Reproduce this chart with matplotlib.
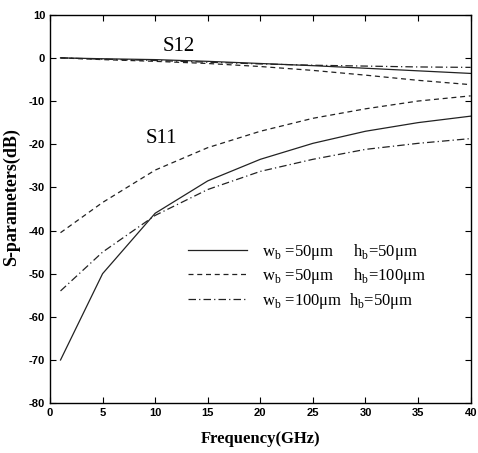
import matplotlib
matplotlib.use("Agg")
import matplotlib.pyplot as plt

plt.rcParams['axes.unicode_minus'] = False
plt.rcParams['mathtext.fontset'] = 'custom'
plt.rcParams['mathtext.rm'] = 'Liberation Serif'

freq = [1, 5, 10, 15, 20, 25, 30, 35, 40]

s11_w50_h50 = [-70, -50, -36, -28.5, -23.5, -19.8, -17.0, -15.0, -13.5]
s11_w50_h100 = [-40.5, -33.5, -26, -20.8, -17.0, -14.0, -11.8, -10.0, -8.8]
s11_w100_h50 = [-54, -45, -36.5, -30.5, -26.3, -23.5, -21.2, -19.8, -18.7]

s12_w50_h50 = [0, -0.2, -0.4, -0.8, -1.3, -1.8, -2.4, -3.0, -3.6]
s12_w50_h100 = [0, -0.4, -0.8, -1.3, -2.0, -2.9, -4.0, -5.2, -6.2]
s12_w100_h50 = [0, -0.3, -0.6, -1.0, -1.4, -1.7, -1.9, -2.1, -2.2]

labels = [r'w$_\mathregular{b}$ =50μm     h$_\mathregular{b}$=50μm',
          r'w$_\mathregular{b}$ =50μm     h$_\mathregular{b}$=100μm',
          r'w$_\mathregular{b}$ =100μm  h$_\mathregular{b}$=50μm']

fig = plt.figure(figsize=(4.78, 4.53), dpi=100)
ax = fig.add_axes([0.1046, 0.110, 0.880, 0.8575])

lw = 0.9
c = '#222222'
l1, = ax.plot(freq, s11_w50_h50, color=c, lw=lw, linestyle='-')
l2, = ax.plot(freq, s11_w50_h100, color=c, lw=lw, linestyle=(0, (4, 3)))
l3, = ax.plot(freq, s11_w100_h50, color=c, lw=lw, linestyle=(0, (6, 2.5, 1, 2.5)))
ax.plot(freq, s12_w50_h50, color=c, lw=lw, linestyle='-')
ax.plot(freq, s12_w50_h100, color=c, lw=lw, linestyle=(0, (4, 3)))
ax.plot(freq, s12_w100_h50, color=c, lw=lw, linestyle=(0, (6, 2.5, 1, 2.5)))

ax.set_xlim(0, 40)
ax.set_ylim(-80, 10)
ax.set_xticks(range(0, 41, 5))
ax.set_yticks(range(-80, 11, 10))
ax.tick_params(direction='in', length=4, width=0.8, top=True, right=True,
               labelsize=8)
for t in ax.get_xticklabels() + ax.get_yticklabels():
    t.set_fontweight('bold')
    t.set_family('Liberation Sans')
for s in ax.spines.values():
    s.set_linewidth(1.0)

ax.set_xlabel('Frequency(GHz)', family='Liberation Serif', fontweight='bold',
              fontsize=12, labelpad=9)
ax.set_ylabel('S-parameters(dB)', family='Liberation Serif', fontweight='bold',
              fontsize=13)
ax.yaxis.set_label_coords(-0.071, 0.53)

ax.text(12.2, 2.6, 'S12', family='Liberation Serif', fontsize=15,
        ha='center', va='center')
ax.text(10.6, -18.6, 'S11', family='Liberation Serif', fontsize=15,
        ha='center', va='center')

leg = ax.legend([l1, l2, l3], labels, frameon=False, loc='upper left',
                bbox_to_anchor=(0.293, 0.454), handlelength=3.5,
                handletextpad=0.95, labelspacing=0.27,
                prop={'family': 'Liberation Serif', 'size': 12})

fig.savefig('out.png', dpi=100)
